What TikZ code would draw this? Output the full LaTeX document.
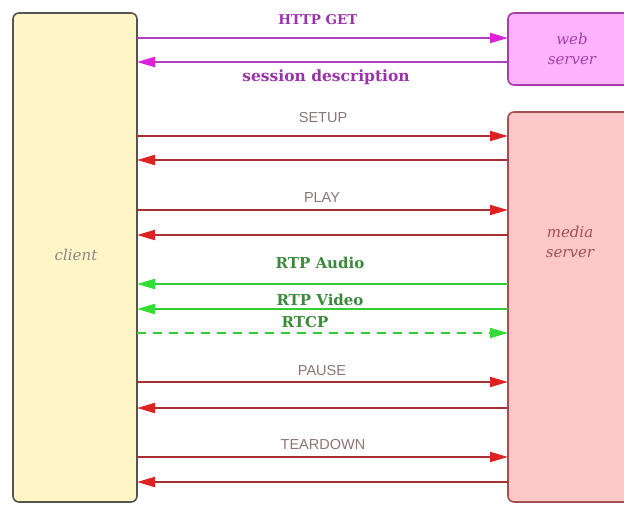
\documentclass[tikz,border=0pt]{standalone}
\usepackage{fontspec}
\setmainfont{DejaVu Serif}
\setsansfont{Liberation Sans}
\usetikzlibrary{arrows.meta}
\definecolor{clientfill}{HTML}{FFF5C6}
\definecolor{clientdraw}{HTML}{555550}
\definecolor{webfill}{HTML}{FFB3FF}
\definecolor{webdraw}{HTML}{A040A8}
\definecolor{mediafill}{HTML}{FFC8C8}
\definecolor{mediadraw}{HTML}{A05050}
\definecolor{magline}{HTML}{B040C0}
\definecolor{maghead}{HTML}{DD22DD}
\definecolor{redline}{HTML}{A83030}
\definecolor{redhead}{HTML}{DD2222}
\definecolor{grnline}{HTML}{33CC33}
\definecolor{grnhead}{HTML}{33DD33}
\definecolor{purplelbl}{HTML}{9933AA}
\definecolor{greenlbl}{HTML}{3A8A3A}
\definecolor{graylbl}{HTML}{8A7575}
\tikzset{
  box/.style={draw, line width=1.6pt, rounded corners=6pt, inner sep=0pt, outer sep=0pt, anchor=north west},
  boxtext/.style={font=\itshape\fontsize{15}{20}\selectfont, align=center},
  msg/.style={line width=2pt},
  magmsg/.style={msg, draw=magline, -{Triangle[length=18pt,width=10pt,fill=maghead,color=maghead]}},
  redmsg/.style={msg, draw=redline, -{Triangle[length=18pt,width=10pt,fill=redhead,color=redhead]}},
  grnmsg/.style={msg, draw=grnline, -{Triangle[length=18pt,width=10pt,fill=grnhead,color=grnhead]}},
  purplbl/.style={font=\bfseries\fontsize{13.5}{15}\selectfont, text=purplelbl},
  grnlbl/.style={font=\bfseries\fontsize{15}{16}\selectfont, text=greenlbl},
  sanslbl/.style={font=\sffamily\fontsize{14.5}{16}\selectfont, text=graylbl},
}
\begin{document}
\begin{tikzpicture}[x=1pt,y=-1pt]
\useasboundingbox (0,0) rectangle (624,505);
\clip (0,0) rectangle (624,505);
\node[box, fill=clientfill, draw=clientdraw, minimum width=124pt, minimum height=489pt] (client) at (13,13) {};
\node[boxtext, text=clientdraw!70] (clientlbl) at (76,255) {client};
\node[box, fill=webfill, draw=webdraw, minimum width=140pt, minimum height=72pt] (web) at (508,13) {};
\node[boxtext, text=webdraw] (weblbl) at (572,49) {web\\server};
\node[box, fill=mediafill, draw=mediadraw, minimum width=140pt, minimum height=390pt] (media) at (508,112) {};
\node[boxtext, text=mediadraw] (medialbl) at (570,242) {media\\server};

% web server exchange
\draw[magmsg] (client.east |- 0,38) -- (web.west |- 0,38);
\draw[magmsg] (web.west |- 0,62) -- (client.east |- 0,62);
\node[purplbl] (lget) at (318,20) {HTTP GET};
\node[purplbl, font=\bfseries\fontsize{15.5}{16}\selectfont] (lsdp) at (326,77) {session description};

% SETUP
\node[sanslbl] (lsetup) at (323,118) {SETUP};
\draw[redmsg] (client.east |- 0,136) -- (media.west |- 0,136);
\draw[redmsg] (media.west |- 0,160) -- (client.east |- 0,160);
% PLAY
\node[sanslbl] (lplay) at (322,198) {PLAY};
\draw[redmsg] (client.east |- 0,210) -- (media.west |- 0,210);
\draw[redmsg] (media.west |- 0,235) -- (client.east |- 0,235);
% RTP
\node[grnlbl] (laudio) at (320,263) {RTP Audio};
\draw[grnmsg] (media.west |- 0,284) -- (client.east |- 0,284);
\node[grnlbl] (lvideo) at (320,300) {RTP Video};
\draw[grnmsg] (media.west |- 0,309) -- (client.east |- 0,309);
\node[grnlbl] (lrtcp) at (305,322) {RTCP};
\draw[grnmsg, dashed, dash pattern=on 9pt off 7pt] (client.east |- 0,333) -- (media.west |- 0,333);
% PAUSE
\node[sanslbl] (lpause) at (322,371) {PAUSE};
\draw[redmsg] (client.east |- 0,382) -- (media.west |- 0,382);
\draw[redmsg] (media.west |- 0,408) -- (client.east |- 0,408);
% TEARDOWN
\node[sanslbl] (lteardown) at (323,445) {TEARDOWN};
\draw[redmsg] (client.east |- 0,457) -- (media.west |- 0,457);
\draw[redmsg] (media.west |- 0,482) -- (client.east |- 0,482);
\end{tikzpicture}
\end{document}
